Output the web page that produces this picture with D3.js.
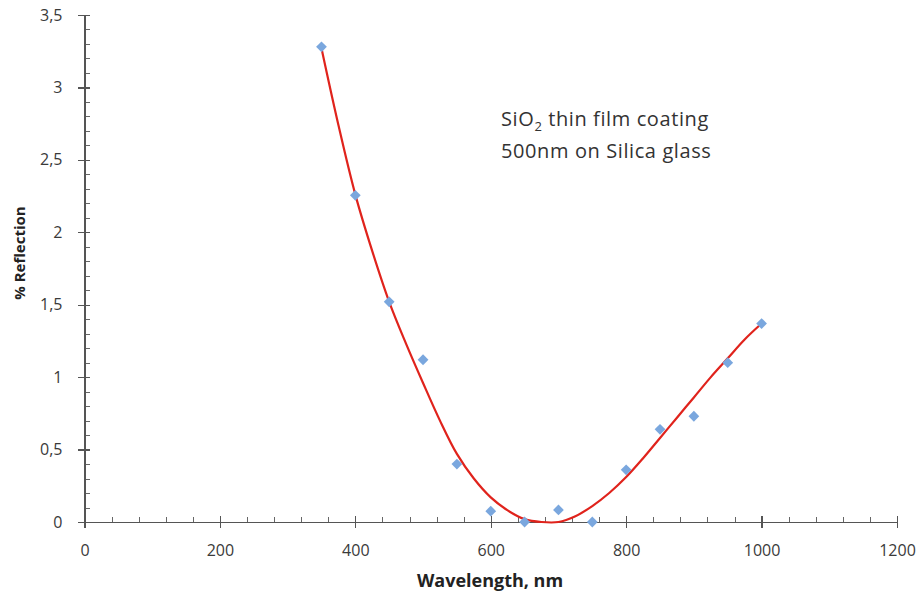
<!DOCTYPE html>
<html lang="en">
	<head>
		<meta charset="utf-8">
		<title>reflection</title>
		<script type="text/javascript" src="https://cdn.jsdelivr.net/npm/d3@7"></script>
		<style type="text/css">
			body {
			  margin: 0;
			  background: #fff;
			  font-family: "Open Sans", sans-serif;
			}
			.axis path,
			.axis line {
			  fill: none;
			  stroke: #555;
			  stroke-width: 1.3px;
			  shape-rendering: crispEdges;
			}
			.axis text {
			  font-family: "Open Sans", sans-serif;
			  font-size: 16px;
			  fill: #3a3a3a;
			}
			.minor line {
			  stroke: #666;
			  stroke-width: 1px;
			  shape-rendering: crispEdges;
			}
			.title {
			  font-weight: bold;
			  fill: #222;
			}
		</style>
	</head>
	<body>
		<script type="text/javascript">

			var w = 921,
			    h = 599;

			// measured points
			var wavelength = [350, 400, 450, 500, 550, 600, 650, 700, 750, 800, 850, 900, 950, 1000];
			var reflection = [3.28, 2.255, 1.52, 1.12, 0.40, 0.075, 0.0, 0.083, 0.0, 0.36, 0.64, 0.73, 1.10, 1.37];

			// red fitted curve
			var fit_wavelength = [350, 375, 400, 425, 450, 475, 500, 525, 550, 575, 600, 625, 650, 675, 700, 725, 750, 775, 800, 825, 850, 875, 900, 925, 950, 975, 1000];
			var fit_reflection = [3.27, 2.74, 2.26, 1.87, 1.52, 1.23, 0.96, 0.70, 0.47, 0.30, 0.17, 0.08, 0.02, 0.0, 0.0, 0.04, 0.11, 0.20, 0.31, 0.44, 0.58, 0.72, 0.86, 1.00, 1.13, 1.26, 1.37];

			var x_ticks = [0, 200, 400, 600, 800, 1000, 1200];
			var y_ticks = [0, 0.5, 1, 1.5, 2, 2.5, 3, 3.5];

			var xScale = d3.scaleLinear().domain([0, 1200]).range([84.5, 897]);
			var yScale = d3.scaleLinear().domain([0, 3.5]).range([522, 15]);

			var fmt = function(d) { return String(d).replace(".", ","); };

			var svg = d3.select("body")
			            .append("svg")
			            .attr("width", w)
			            .attr("height", h);

			// minor ticks
			var y_minor = d3.range(0, 3.5001, 0.1);
			svg.append("g")
			   .attr("class", "minor")
			   .selectAll("line")
			   .data(y_minor)
			   .enter()
			   .append("line")
			   .attr("x1", xScale(0))
			   .attr("x2", xScale(0) + 5)
			   .attr("y1", function(d) { return Math.round(yScale(d)) + 0.5; })
			   .attr("y2", function(d) { return Math.round(yScale(d)) + 0.5; });

			var x_minor = d3.range(0, 1201, 40);
			svg.append("g")
			   .attr("class", "minor")
			   .selectAll("line")
			   .data(x_minor)
			   .enter()
			   .append("line")
			   .attr("x1", function(d) { return Math.round(xScale(d)) + 0.5; })
			   .attr("x2", function(d) { return Math.round(xScale(d)) + 0.5; })
			   .attr("y1", yScale(0) - 5)
			   .attr("y2", yScale(0) + 1);

			// axes
			svg.append("g")
			   .attr("class", "axis")
			   .attr("transform", "translate(0," + yScale(0) + ")")
			   .call(d3.axisBottom(xScale).tickValues(x_ticks).tickFormat(d3.format("d")).tickSize(6).tickSizeOuter(0).tickPadding(17))
			   .selectAll(".tick line")
			   .attr("y1", -6);

			svg.append("g")
			   .attr("class", "axis")
			   .attr("transform", "translate(" + xScale(0) + ",0)")
			   .call(d3.axisLeft(yScale).tickValues(y_ticks).tickFormat(fmt).tickSize(7).tickSizeOuter(0).tickPadding(15))
			   .selectAll(".tick line")
			   .attr("x1", 5);

			// fitted curve
			var line = d3.line()
			             .x(function(d, i) { return xScale(fit_wavelength[i]); })
			             .y(function(d) { return yScale(d); })
			             .curve(d3.curveCatmullRom);

			svg.append("path")
			   .datum(fit_reflection)
			   .attr("fill", "none")
			   .attr("stroke", "#e0231c")
			   .attr("stroke-width", 2.2)
			   .attr("d", line);

			// markers
			svg.append("g")
			   .selectAll("path")
			   .data(reflection)
			   .enter()
			   .append("path")
			   .attr("d", d3.symbol().type(d3.symbolSquare).size(58))
			   .attr("fill", "#7aa7de")
			   .attr("transform", function(d, i) { return "translate(" + xScale(wavelength[i]) + "," + yScale(d) + ") rotate(45)"; });

			// axis titles
			svg.append("text")
			   .attr("class", "title")
			   .attr("x", 490)
			   .attr("y", 587)
			   .attr("font-size", "18px")
			   .attr("text-anchor", "middle")
			   .text("Wavelength, nm");

			svg.append("text")
			   .attr("class", "title")
			   .attr("transform", "translate(25,253) rotate(-90)")
			   .attr("font-size", "15px")
			   .attr("text-anchor", "middle")
			   .text("% Reflection");

			// annotation
			var note = svg.append("text")
			   .attr("x", 501)
			   .attr("y", 126)
			   .attr("font-size", "20px")
			   .attr("letter-spacing", "0.6px")
			   .attr("fill", "#333");
			note.append("tspan").text("SiO");
			note.append("tspan").attr("dy", 5).attr("font-size", "13px").text("2");
			note.append("tspan").attr("dy", -5).text(" thin film coating");

			svg.append("text")
			   .attr("x", 501)
			   .attr("y", 158)
			   .attr("font-size", "20px")
			   .attr("letter-spacing", "0.6px")
			   .attr("fill", "#333")
			   .text("500nm on Silica glass");

		</script>
	</body>
</html>
